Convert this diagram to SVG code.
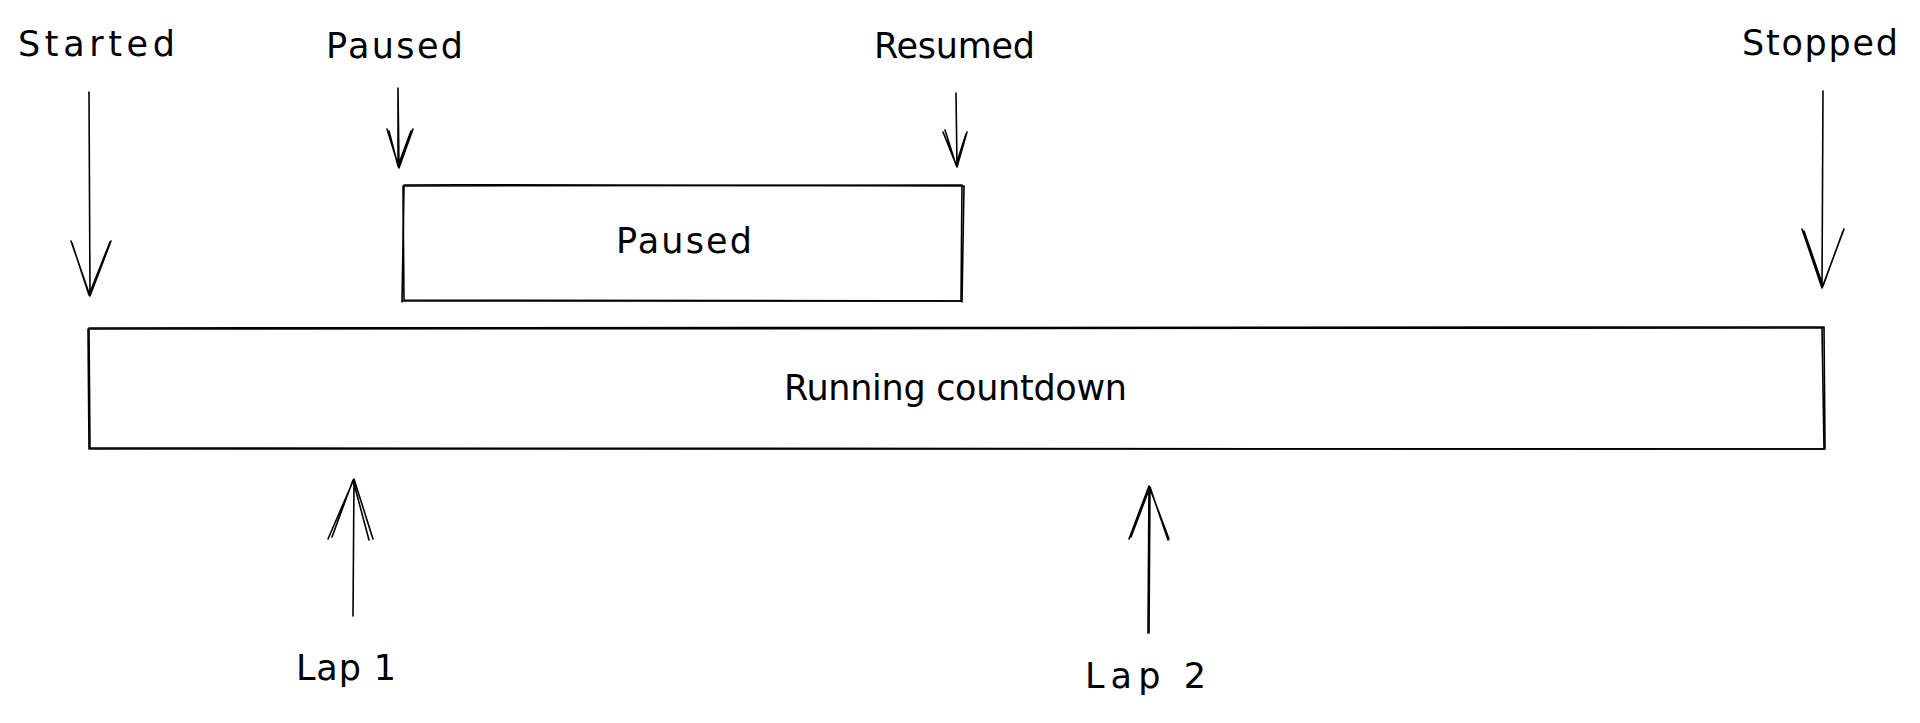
<svg xmlns="http://www.w3.org/2000/svg" width="1920" height="723" viewBox="0 0 1920 723">
<style>
.s{fill:none;stroke:#000;stroke-width:1.6;stroke-linecap:round;stroke-linejoin:round}
.t{font-family:"DejaVu Sans","Liberation Sans",Arial,sans-serif;font-size:35px;fill:#000}
</style>
<rect width="1920" height="723" fill="#fff"/>
<g id="node-running">
<path class="s" d="M89 328 L1824 327 L1825 449 L90 448 Z"/>
<path class="s" d="M90 329 C600 326 1200 327 1823 328 M1822 328 L1824 448 M1824 449 L89 449 M89 449 L88 329"/>
<text class="t" x="784" y="400" textLength="343" lengthAdjust="spacing">Running countdown</text>
</g>
<g id="node-paused">
<path class="s" d="M403 186 L962 185 L961 301 L404 300 Z"/>
<path class="s" d="M404 185 C600 184 800 186 963 186 M964 186 L962 302 M962 301 L402 301 M402 302 L404 187"/>
<text class="t" x="616" y="253" textLength="136" lengthAdjust="spacing">Paused</text>
</g>
<g id="label-started"><text class="t" x="18" y="56" textLength="157" lengthAdjust="spacing">Started</text></g>
<g id="label-paused"><text class="t" x="326" y="58" textLength="137" lengthAdjust="spacing">Paused</text></g>
<g id="label-resumed"><text class="t" x="874" y="58" textLength="161" lengthAdjust="spacing">Resumed</text></g>
<g id="label-stopped"><text class="t" x="1742" y="55" textLength="156" lengthAdjust="spacing">Stopped</text></g>
<g id="label-lap1"><text class="t" x="296" y="680" textLength="100" lengthAdjust="spacing">Lap 1</text></g>
<g id="label-lap2"><text class="t" x="1085" y="688" textLength="121" lengthAdjust="spacing">Lap 2</text></g>
<g id="connectors">
<path class="s" d="M89 92 L90 296 M71 241 L90 296 L111 241 M72 243 L89 295 L110 242"/>
<path class="s" d="M398 88 L399 168 M398 90 L398 166 M387 129 L399 168 L413 129 M389 131 L398 166 L411 131"/>
<path class="s" d="M956 93 L957 167 M943 132 L957 167 L967 132 M945 130 L956 165 L966 134"/>
<path class="s" d="M1823 91 L1822 288 M1802 229 L1822 288 L1844 229 M1804 231 L1823 286 L1843 231"/>
<path class="s" d="M353 616 L354 479 M328 539 L354 479 L373 539 M332 537 L353 480 L369 540"/>
<path class="s" d="M1148 633 L1149 486 M1149 633 L1150 487 M1129 539 L1149 486 L1169 539 M1131 537 L1150 487 L1168 540"/>
</g>
</svg>
